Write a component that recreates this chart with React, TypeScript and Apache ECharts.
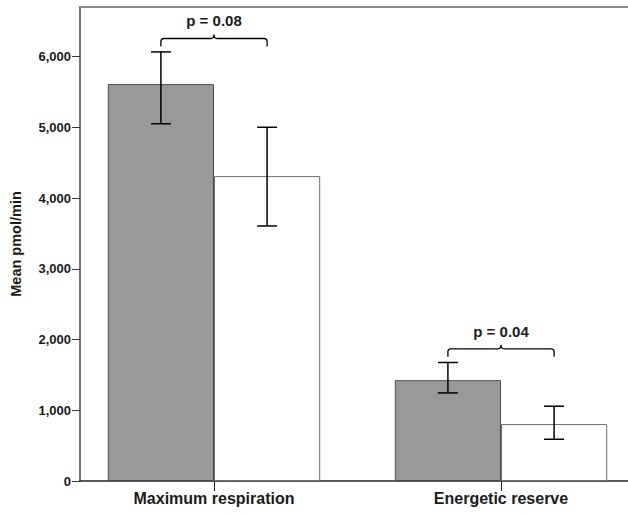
import React, { useEffect, useRef } from "react";
import * as echarts from "echarts";

const categories = ["Maximum respiration", "Energetic reserve"];
const grayValues = [5610, 1425];
const whiteValues = [4310, 805];
const grayErrLow = [5050, 1245];
const grayErrHigh = [6065, 1675];
const whiteErrLow = [3605, 590];
const whiteErrHigh = [5000, 1057];
const yTicks = [0, 1000, 2000, 3000, 4000, 5000, 6000];
const pLabels = ["p = 0.08", "p = 0.04"];
const bracketLevels = [6255, 1868];

const Y_MAX = 6700;
const CAT_GAP = 0.26;
const FONT = "'Liberation Sans', Arial, sans-serif";

export default function App() {
  const ref = useRef<HTMLDivElement>(null);
  useEffect(() => {
    if (!ref.current) return;
    const chart = echarts.init(ref.current, null, { renderer: "svg" });

    const errData: number[][] = [];
    for (let i = 0; i < categories.length; i++) {
      errData.push([i, 0, grayErrLow[i], grayErrHigh[i]]);
      errData.push([i, 1, whiteErrLow[i], whiteErrHigh[i]]);
    }
    const bracketData = categories.map((_, i) => [i, bracketLevels[i]]);

    const option: any = {
      animation: false,
      backgroundColor: "#ffffff",
      grid: [
        { left: 80, right: 0, top: 7, bottom: 33, outerBoundsMode: "none", containLabel: false },
        { left: 70.5, width: 574, top: 7, bottom: 33, outerBoundsMode: "none", containLabel: false },
      ],
      xAxis: [
        {
          gridIndex: 0,
          type: "value",
          min: 0,
          max: 1,
          position: "bottom",
          axisLine: { show: true, lineStyle: { color: "#222", width: 1.5 } },
          axisTick: { show: false },
          axisLabel: { show: false },
          splitLine: { show: false },
        },
        {
          gridIndex: 0,
          type: "value",
          min: 0,
          max: 1,
          position: "top",
          axisLine: { show: true, lineStyle: { color: "#8a8a8a", width: 2 } },
          axisTick: { show: false },
          axisLabel: { show: false },
          splitLine: { show: false },
        },
        {
          gridIndex: 1,
          type: "category",
          data: categories,
          position: "bottom",
          axisLine: { show: false },
          axisTick: {
            show: true,
            alignWithLabel: true,
            length: 10,
            lineStyle: { color: "#222", width: 1 },
          },
          axisLabel: {
            color: "#1a1a1a",
            fontFamily: FONT,
            fontWeight: "bold",
            fontSize: 16,
            margin: 9,
          },
          splitLine: { show: false },
        },
      ],
      yAxis: [
        {
          gridIndex: 0,
          type: "value",
          min: 0,
          max: Y_MAX,
          interval: 1000,
          name: "Mean pmol/min",
          nameLocation: "middle",
          nameGap: 57,
          nameRotate: 90,
          nameTextStyle: {
            color: "#1a1a1a",
            fontFamily: FONT,
            fontWeight: "bold",
            fontSize: 14.5,
          },
          axisLine: { show: true, lineStyle: { color: "#444", width: 1.5 } },
          axisTick: {
            show: true,
            length: 8,
            customValues: yTicks,
            lineStyle: { color: "#333", width: 1 },
          },
          axisLabel: {
            customValues: yTicks,
            color: "#1a1a1a",
            fontFamily: FONT,
            fontWeight: "bold",
            fontSize: 13,
            margin: 9,
            formatter: (v: number) => v.toLocaleString("en-US"),
          },
          splitLine: { show: false },
        },
        {
          gridIndex: 1,
          type: "value",
          min: 0,
          max: Y_MAX,
          show: false,
          splitLine: { show: false },
        },
      ],
      series: [
        {
          type: "bar",
          xAxisIndex: 2,
          yAxisIndex: 1,
          data: grayValues,
          barGap: "0%",
          barCategoryGap: CAT_GAP * 100 + "%",
          itemStyle: { color: "#999999", borderColor: "#4a4a4a", borderWidth: 1 },
        },
        {
          type: "bar",
          xAxisIndex: 2,
          yAxisIndex: 1,
          data: whiteValues,
          barGap: "0%",
          barCategoryGap: CAT_GAP * 100 + "%",
          itemStyle: { color: "#ffffff", borderColor: "#6e6e6e", borderWidth: 1 },
        },
        {
          type: "custom",
          xAxisIndex: 2,
          yAxisIndex: 1,
          data: errData,
          z: 5,
          renderItem: (params: any, api: any) => {
            const cat = api.value(0);
            const s = api.value(1);
            const lo = api.coord([cat, api.value(2)]);
            const hi = api.coord([cat, api.value(3)]);
            const band = api.size([1, 0])[0];
            const bw = (band * (1 - CAT_GAP)) / 2;
            const x = lo[0] + (s === 0 ? -bw / 2 : bw / 2);
            const cap = 10;
            const st = { stroke: "#000", lineWidth: 1.5 };
            return {
              type: "group",
              children: [
                { type: "line", shape: { x1: x, y1: hi[1], x2: x, y2: lo[1] }, style: st },
                { type: "line", shape: { x1: x - cap, y1: hi[1], x2: x + cap, y2: hi[1] }, style: st },
                { type: "line", shape: { x1: x - cap, y1: lo[1], x2: x + cap, y2: lo[1] }, style: st },
              ],
            };
          },
        },
        {
          type: "custom",
          xAxisIndex: 2,
          yAxisIndex: 1,
          data: bracketData,
          z: 5,
          renderItem: (params: any, api: any) => {
            const cat = api.value(0);
            const p = api.coord([cat, api.value(1)]);
            const band = api.size([1, 0])[0];
            const bw = (band * (1 - CAT_GAP)) / 2;
            const cx = p[0];
            const y = p[1];
            const x1 = cx - bw / 2;
            const x2 = cx + bw / 2;
            const r = 3;
            const d =
              `M ${x1} ${y + 8} L ${x1} ${y + r} Q ${x1} ${y} ${x1 + r} ${y} ` +
              `L ${cx - r} ${y} Q ${cx} ${y} ${cx} ${y - r - 1} ` +
              `Q ${cx} ${y} ${cx + r} ${y} L ${x2 - r} ${y} ` +
              `Q ${x2} ${y} ${x2} ${y + r} L ${x2} ${y + 8}`;
            return {
              type: "group",
              children: [
                {
                  type: "path",
                  shape: { pathData: d },
                  style: { stroke: "#000", lineWidth: 1.3, fill: "none" },
                },
                {
                  type: "text",
                  x: cx,
                  y: y - 10,
                  style: {
                    text: pLabels[params.dataIndex],
                    fill: "#1a1a1a",
                    font: `bold 15px ${FONT}`,
                    textAlign: "center",
                    textVerticalAlign: "bottom",
                  },
                },
              ],
            };
          },
        },
      ],
    };
    chart.setOption(option);
    return () => chart.dispose();
  }, []);
  return (
    <div
      ref={ref}
      style={{ position: "fixed", left: 0, top: 0, width: 628, height: 514 }}
    />
  );
}
